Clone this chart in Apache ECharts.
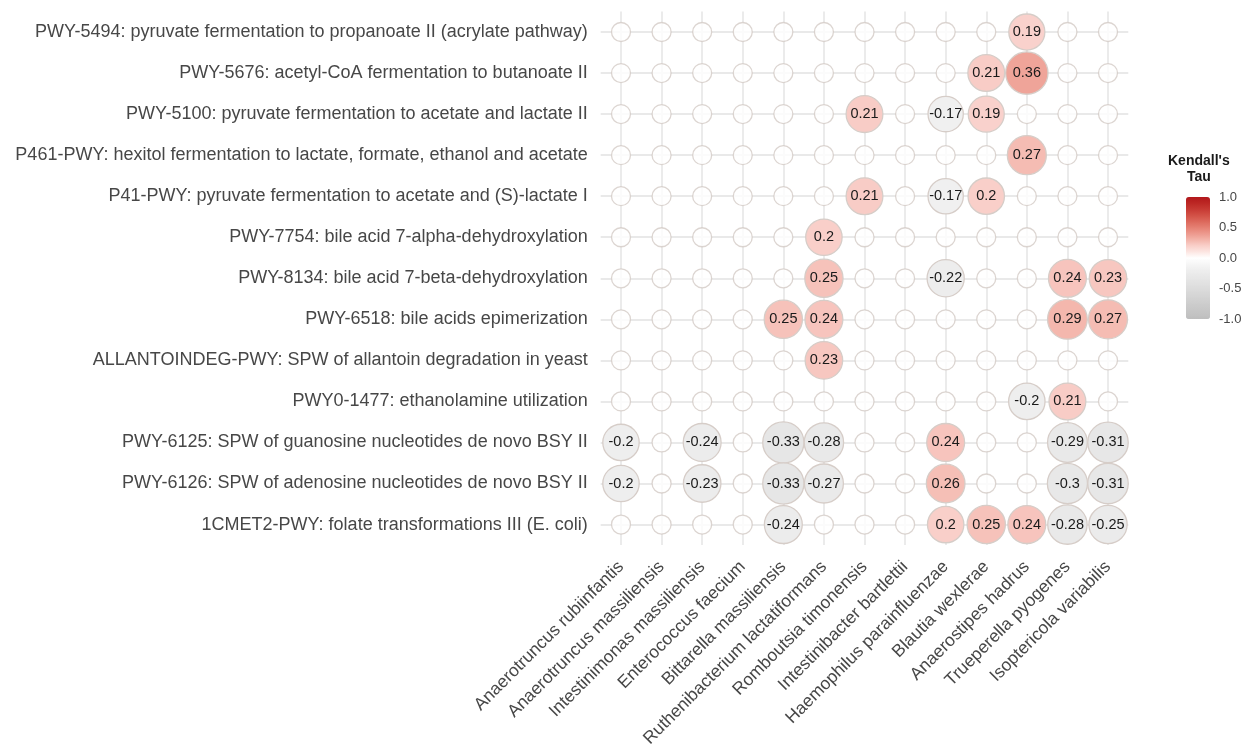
<!DOCTYPE html>
<html>
<head>
<meta charset="utf-8">
<title>Kendall's Tau: taxa vs. pathways</title>
<script src="https://cdn.jsdelivr.net/npm/echarts@6/dist/echarts.min.js"></script>
<style>
  html, body { margin: 0; padding: 0; background: #ffffff; }
  #chart { width: 1257px; height: 750px; }
</style>
</head>
<body>
<div id="chart"></div>
<script>
// Taxa along the x axis (left to right)
const taxa = [
  'Anaerotruncus rubiinfantis',
  'Anaerotruncus massiliensis',
  'Intestinimonas massiliensis',
  'Enterococcus faecium',
  'Bittarella massiliensis',
  'Ruthenibacterium lactatiformans',
  'Romboutsia timonensis',
  'Intestinibacter bartlettii',
  'Haemophilus parainfluenzae',
  'Blautia wexlerae',
  'Anaerostipes hadrus',
  'Trueperella pyogenes',
  'Isoptericola variabilis'
];

// Pathways along the y axis (top to bottom)
const pathways = [
  'PWY-5494: pyruvate fermentation to propanoate II (acrylate pathway)',
  'PWY-5676: acetyl-CoA fermentation to butanoate II',
  'PWY-5100: pyruvate fermentation to acetate and lactate II',
  'P461-PWY: hexitol fermentation to lactate, formate, ethanol and acetate',
  'P41-PWY: pyruvate fermentation to acetate and (S)-lactate I',
  'PWY-7754: bile acid 7-alpha-dehydroxylation',
  'PWY-8134: bile acid 7-beta-dehydroxylation',
  'PWY-6518: bile acids epimerization',
  'ALLANTOINDEG-PWY: SPW of allantoin degradation in yeast',
  'PWY0-1477: ethanolamine utilization',
  'PWY-6125: SPW of guanosine nucleotides de novo BSY II',
  'PWY-6126: SPW of adenosine nucleotides de novo BSY II',
  '1CMET2-PWY: folate transformations III (E. coli)'
];

// Significant Kendall's tau per pathway (one entry per taxon; null = not significant)
const _ = null;
const tauPWY5494   = [_, _, _, _, _, _, _, _, _, _, 0.19, _, _];
const tauPWY5676   = [_, _, _, _, _, _, _, _, _, 0.21, 0.36, _, _];
const tauPWY5100   = [_, _, _, _, _, _, 0.21, _, -0.17, 0.19, _, _, _];
const tauP461      = [_, _, _, _, _, _, _, _, _, _, 0.27, _, _];
const tauP41       = [_, _, _, _, _, _, 0.21, _, -0.17, 0.2, _, _, _];
const tauPWY7754   = [_, _, _, _, _, 0.2, _, _, _, _, _, _, _];
const tauPWY8134   = [_, _, _, _, _, 0.25, _, _, -0.22, _, _, 0.24, 0.23];
const tauPWY6518   = [_, _, _, _, 0.25, 0.24, _, _, _, _, _, 0.29, 0.27];
const tauALLANTOIN = [_, _, _, _, _, 0.23, _, _, _, _, _, _, _];
const tauPWY01477  = [_, _, _, _, _, _, _, _, _, _, -0.2, 0.21, _];
const tauPWY6125   = [-0.2, _, -0.24, _, -0.33, -0.28, _, _, 0.24, _, _, -0.29, -0.31];
const tauPWY6126   = [-0.2, _, -0.23, _, -0.33, -0.27, _, _, 0.26, _, _, -0.3, -0.31];
const tau1CMET2    = [_, _, _, _, -0.24, _, _, _, 0.2, 0.25, 0.24, -0.28, -0.25];

const tauRows = [
  tauPWY5494, tauPWY5676, tauPWY5100, tauP461, tauP41, tauPWY7754, tauPWY8134,
  tauPWY6518, tauALLANTOIN, tauPWY01477, tauPWY6125, tauPWY6126, tau1CMET2
];

// Colour-bar tick labels
const legendTicks = [-1, -0.5, 0, 0.5, 1];

// Diverging fill: grey (-1) -> white (0) -> dark red (1), stops every 0.1
const colorStops = [
  '#bebebe', '#c4c4c4', '#cacaca', '#d0d0d0', '#d6d6d6', '#dcdcdc',
  '#e2e2e2', '#e8e8e8', '#eeeeee', '#f6f6f6', '#ffffff',
  '#fce6e2', '#f9cfc9', '#f3b4aa', '#ed998d', '#e58073',
  '#dc685b', '#d25046', '#c73a33', '#bc2724', '#b2181b'
];

// Split the matrix into empty (non-significant) and filled cells
const emptyCells = [];
const filledCells = [];
tauRows.forEach((row, yi) => {
  row.forEach((v, xi) => {
    if (v === null) emptyCells.push([xi, yi]);
    else filledCells.push([xi, yi, v]);
  });
});

const FONT = "'Liberation Sans', Arial, sans-serif";
const gridLine = { color: '#e9e9e9', width: 1.8 };

const chart = echarts.init(document.getElementById('chart'), null, { renderer: 'canvas' });

chart.setOption({
  animation: false,
  backgroundColor: '#ffffff',
  textStyle: { fontFamily: FONT },
  grid: [
    { left: 600.7, top: 11.5, width: 527.6, height: 534 },
    // sits on top of the colour bar to carry its tick labels
    { left: 1186, top: 197, width: 24, height: 122 }
  ],
  xAxis: [
    {
      type: 'category',
      gridIndex: 0,
      data: taxa,
      boundaryGap: true,
      axisLine: { show: false },
      axisTick: { show: false },
      splitLine: { show: true, alignWithLabel: true, lineStyle: gridLine },
      axisLabel: {
        interval: 0,
        rotate: 45,
        margin: 19,
        fontSize: 17.5,
        color: '#474747',
        fontFamily: FONT
      }
    },
    {
      type: 'value',
      gridIndex: 1,
      min: 0, max: 1,
      show: false
    }
  ],
  yAxis: [
    {
      type: 'category',
      gridIndex: 0,
      data: pathways,
      inverse: true,
      boundaryGap: true,
      axisLine: { show: false },
      axisTick: { show: false },
      splitLine: { show: true, alignWithLabel: true, lineStyle: gridLine },
      axisLabel: {
        interval: 0,
        margin: 13,
        fontSize: 18,
        color: '#474747',
        fontFamily: FONT
      }
    },
    {
      type: 'value',
      gridIndex: 1,
      position: 'right',
      min: -1, max: 1, interval: 0.5,
      axisLine: { show: false },
      splitLine: { show: false },
      axisTick: { show: true, inside: true, length: 4, lineStyle: { color: '#ffffff', width: 1 } },
      axisLabel: {
        margin: 9,
        fontSize: 13,
        color: '#474747',
        fontFamily: FONT,
        formatter: v => (legendTicks.includes(v) ? v.toFixed(1) : '')
      }
    }
  ],
  visualMap: {
    type: 'continuous',
    seriesIndex: 1,
    dimension: 2,
    min: -1,
    max: 1,
    calculable: false,
    realtime: false,
    hoverLink: false,
    orient: 'vertical',
    left: 1186,
    top: 197,
    padding: 0,
    itemWidth: 24,
    itemHeight: 122,
    text: null,
    inRange: { color: colorStops }
  },
  graphic: [
    {
      type: 'text',
      left: 1168,
      top: 153,
      style: {
        text: "Kendall's\nTau",
        fill: '#1a1a1a',
        font: "bold 14px " + FONT,
        textAlign: 'center',
        lineHeight: 16,
        width: 60
      }
    }
  ],
  series: [
    {
      name: 'not significant',
      type: 'scatter',
      xAxisIndex: 0,
      yAxisIndex: 0,
      data: emptyCells,
      symbol: 'circle',
      symbolSize: 19,
      silent: true,
      itemStyle: { color: '#ffffff', borderColor: '#d3cbc6', borderWidth: 1.3 },
      z: 3
    },
    {
      name: "Kendall's Tau",
      type: 'scatter',
      xAxisIndex: 0,
      yAxisIndex: 0,
      data: filledCells,
      symbol: 'circle',
      symbolSize: v => 29 + 37 * Math.abs(v[2]),
      silent: true,
      itemStyle: { borderColor: '#d6cdc8', borderWidth: 1.3, opacity: 1 },
      label: {
        show: true,
        position: 'inside',
        formatter: p => String(p.value[2]),
        fontSize: 14.5,
        color: '#1a1a1a',
        fontFamily: FONT
      },
      z: 4
    }
  ]
});
</script>
</body>
</html>
